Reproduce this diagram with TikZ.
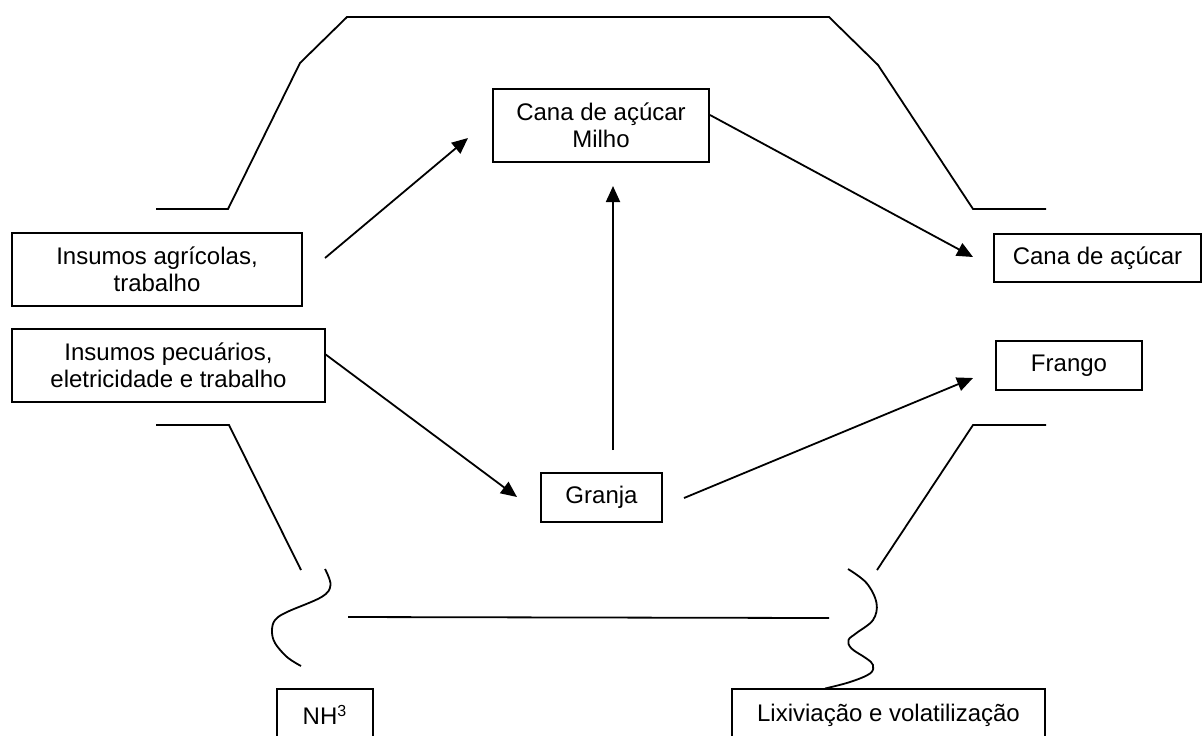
\documentclass[tikz,border=0pt]{standalone}
\usepackage{fontspec}
\setmainfont{Liberation Sans}
\usetikzlibrary{arrows.meta}
\tikzset{
  box/.style={draw, line width=0.9pt, align=center, inner sep=0pt,
    font=\fontsize{12pt}{13.5pt}\selectfont},
  flow/.style={line width=0.9pt, -{Triangle[length=8pt,width=7pt]}},
  frame/.style={line width=0.9pt}
}
\begin{document}
\begin{tikzpicture}[x=0.5pt,y=-0.5pt]
  \useasboundingbox (0,0) rectangle (1202,735);
  \clip (0,0) rectangle (1202,735);

  % caixas
  \node[box, minimum width=145pt, minimum height=36.5pt] (agri)   at (157,269.5)  {Insumos agrícolas,\\trabalho};
  \node[box, minimum width=156.5pt, minimum height=36.5pt] (pecu) at (168.5,365.5) {Insumos pecuários,\\eletricidade e trabalho};
  \node[box, minimum width=108pt, minimum height=36.5pt] (milho)  at (601,125.5)  {Cana de açúcar\\Milho};
  \node[box, minimum width=103.5pt, minimum height=24pt] (cana)   at (1097.5,258) {Cana de açúcar};
  \node[box, minimum width=73pt, minimum height=24.5pt] (frango)  at (1069,365.5) {Frango};
  \node[box, minimum width=60.5pt, minimum height=24.5pt] (granja) at (601.5,497.5) {Granja};
  \node[box, minimum width=48pt, minimum height=26pt] (nh)        at (325,715)    {NH\textsuperscript{3}};
  \node[box, minimum width=156.5pt, minimum height=26pt] (lix)    at (888.5,715)  {Lixiviação e volatilização};

  % pontas das setas
  \coordinate (a1) at (325,258);  \coordinate (a2) at (468,138);
  \coordinate (b1) at (710,115);  \coordinate (b2) at (973,257);
  \coordinate (c1) at (325,354);  \coordinate (c2) at (517,497);
  \coordinate (d1) at (613,450);  \coordinate (d2) at (613,186);
  \coordinate (e1) at (684,498);  \coordinate (e2) at (973,378);

  \draw[flow] (a1) -- (a2);
  \draw[flow] (b1) -- (b2);
  \draw[flow] (c1) -- (c2);
  \draw[flow] (d1) -- (d2);
  \draw[flow] (e1) -- (e2);

  % contorno
  \draw[frame] (156,209) -- (228,209) -- (300,63) -- (347,17) -- (829,17)
    -- (878,65) -- (973,209) -- (1046,209);
  \draw[frame] (156,425) -- (229,425) -- (301,570);
  \draw[frame] (1046,425) -- (973,425) -- (877,570);
  \draw[frame] (348,617) -- (829,618);
  \draw[frame] plot[smooth, tension=0.6] coordinates {(325,569) (330.5,585) (321.5,597)
    (287,612) (275,620) (272,631) (275,643) (287,657) (301,666)};
  \draw[frame] plot[smooth, tension=0.6] coordinates {(848,569) (866.5,583) (876.5,603)
    (873,620) (856.5,633) (848.5,640) (851.5,648.5) (866.5,658.5) (873,665)
    (870,673.5) (850,682) (825,688.5)};
\end{tikzpicture}
\end{document}
